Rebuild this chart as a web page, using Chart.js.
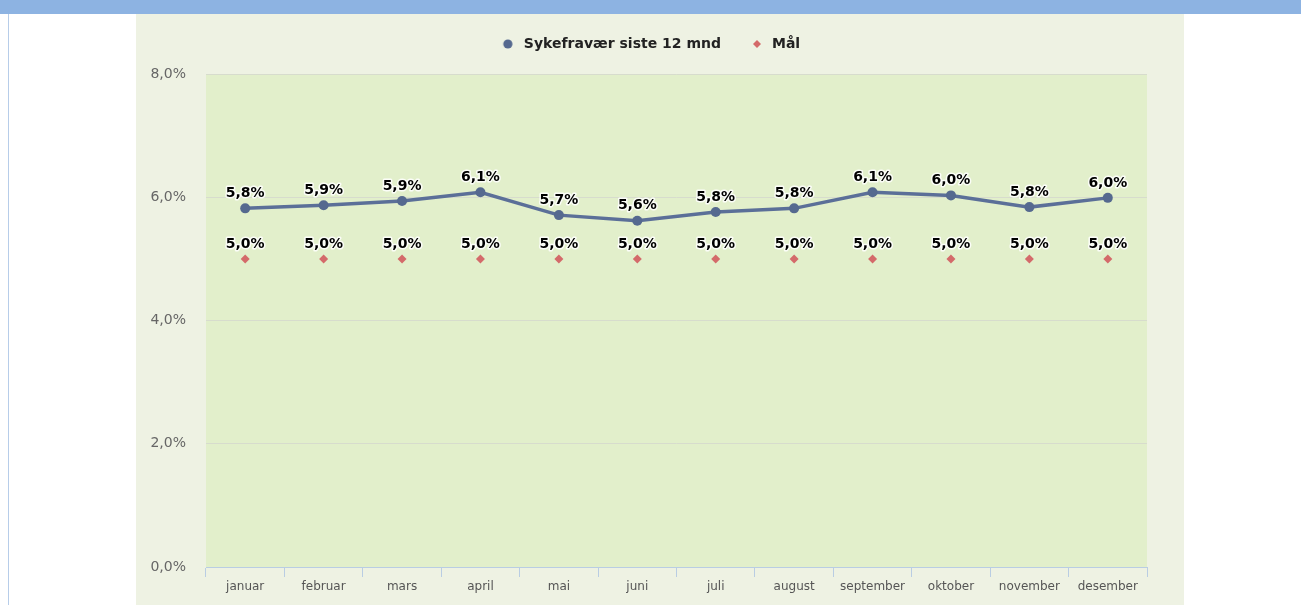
<!DOCTYPE html>
<html>
<head>
<meta charset="utf-8">
<script src="https://cdn.jsdelivr.net/npm/chart.js@4/dist/chart.umd.min.js"></script>
<style>
  html, body { margin: 0; padding: 0; background: #fff; }
  canvas { display: block; }
</style>
</head>
<body>
<canvas id="fravaerChart" width="1301" height="605"></canvas>
<script>
const months = ['januar', 'februar', 'mars', 'april', 'mai', 'juni', 'juli', 'august', 'september', 'oktober', 'november', 'desember'];
const sykefravaer = [5.82, 5.87, 5.94, 6.08, 5.71, 5.62, 5.76, 5.82, 6.08, 6.03, 5.84, 5.99];
const maal = [5.0, 5.0, 5.0, 5.0, 5.0, 5.0, 5.0, 5.0, 5.0, 5.0, 5.0, 5.0];
const yTicks = [0, 2, 4, 6, 8];

function pct(v) {
    return v.toFixed(1).replace('.', ',') + '%';
}

// Small legend markers, drawn off-centre so the gap to the text matches
function markor(form, farge, cx) {
    const cv = document.createElement('canvas');
    cv.width = 20;
    cv.height = 20;
    const c = cv.getContext('2d');
    c.fillStyle = farge;
    c.beginPath();
    if (form === 'circle') {
        c.arc(cx, 10, 4.6, 0, Math.PI * 2);
    } else {
        c.moveTo(cx, 6);
        c.lineTo(cx + 4, 10);
        c.lineTo(cx, 14);
        c.lineTo(cx - 4, 10);
        c.closePath();
    }
    c.fill();
    return cv;
}
const legendMarkorer = [markor('circle', '#55698f', 8), markor('diamond', '#d46a6a', 9)];

// Background: page frame, panel and plot area
const bakgrunn = {
    id: 'bakgrunn',
    beforeDraw(chart) {
        const c = chart.ctx;
        const a = chart.chartArea;
        c.save();
        c.fillStyle = '#ffffff';
        c.fillRect(0, 0, chart.width, chart.height);
        c.fillStyle = '#8db3e2';
        c.fillRect(0, 0, chart.width, 14);
        c.fillStyle = '#b7cde9';
        c.fillRect(8, 14, 1, chart.height - 14);
        c.fillStyle = '#eef2e3';
        c.fillRect(136, 14, 1048, chart.height - 14);
        c.fillStyle = '#e2efcb';
        c.fillRect(a.left, a.top, a.right - a.left, a.bottom - a.top);
        c.restore();
    }
};

// Value labels above every point
const verdier = {
    id: 'verdier',
    afterDatasetsDraw(chart) {
        const c = chart.ctx;
        c.save();
        c.font = 'bold 14px "DejaVu Sans", Verdana, sans-serif';
        c.textAlign = 'center';
        c.textBaseline = 'middle';
        c.lineJoin = 'round';
        chart.data.datasets.forEach((ds, i) => {
            const meta = chart.getDatasetMeta(i);
            meta.data.forEach((pt, j) => {
                const txt = pct(ds.data[j]);
                c.strokeStyle = 'rgba(255,255,255,0.85)';
                c.lineWidth = 3;
                c.strokeText(txt, pt.x, pt.y - 15);
                c.fillStyle = '#000000';
                c.fillText(txt, pt.x, pt.y - 15);
            });
        });
        c.restore();
    }
};

// Fixed legend height, and the legend nudged right like in the original
const legendeHoyde = {
    id: 'legendeHoyde',
    beforeInit(chart) {
        const fit = chart.legend.fit;
        chart.legend.fit = function () {
            fit.bind(chart.legend)();
            this.height = 67;
        };
    },
    afterLayout(chart) {
        chart.legend.left += 10;
        chart.legend.right += 10;
    }
};

const ctx = document.getElementById('fravaerChart').getContext('2d');
const chart = new Chart(ctx, {
    type: 'line',
    data: {
        labels: months,
        datasets: [{
            label: 'Sykefravær siste 12 mnd',
            data: sykefravaer,
            borderColor: '#5b6f98',
            backgroundColor: '#5b6f98',
            borderWidth: 3.5,
            pointStyle: 'circle',
            pointRadius: 5,
            pointBackgroundColor: '#55698f',
            pointBorderWidth: 0,
            tension: 0
        }, {
            label: 'Mål',
            data: maal,
            showLine: false,
            borderColor: '#d46a6a',
            backgroundColor: '#d46a6a',
            pointStyle: 'rectRot',
            pointRadius: 4.5,
            pointBorderWidth: 0
        }]
    },
    options: {
        responsive: false,
        animation: false,
        layout: {
            padding: { left: 136, right: 154, top: 7, bottom: 0 }
        },
        plugins: {
            legend: {
                position: 'top',
                labels: {
                    usePointStyle: true,
                    boxWidth: 14,
                    boxHeight: 14,
                    padding: 30,
                    color: '#222222',
                    font: { family: '"DejaVu Sans", Verdana, sans-serif', size: 14, weight: 'bold' },
                    generateLabels(chart) {
                        const items = Chart.defaults.plugins.legend.labels.generateLabels(chart);
                        items.forEach((it, i) => { it.pointStyle = legendMarkorer[i]; });
                        return items;
                    }
                }
            },
            tooltip: { enabled: false }
        },
        scales: {
            x: {
                offset: true,
                afterFit(scale) {
                    scale.height = 38;
                },
                grid: {
                    offset: true,
                    drawOnChartArea: false,
                    drawTicks: true,
                    tickLength: 10,
                    color: '#b9cde3'
                },
                border: { color: '#b9cde3' },
                ticks: {
                    color: '#555555',
                    padding: 3,
                    font: { family: '"DejaVu Sans", Verdana, sans-serif', size: 12 }
                }
            },
            y: {
                min: 0,
                max: 8,
                afterBuildTicks(scale) {
                    scale.ticks = yTicks.map(v => ({ value: v }));
                },
                afterFit(scale) {
                    scale.width = 70;
                },
                grid: {
                    drawTicks: false,
                    color: (c) => c.tick && c.tick.value === 0 ? 'rgba(0,0,0,0)' : '#d7dccd'
                },
                border: { display: false },
                ticks: {
                    padding: 20,
                    color: '#666666',
                    font: { family: '"DejaVu Sans", Verdana, sans-serif', size: 14 },
                    callback: (v) => pct(v)
                }
            }
        }
    },
    plugins: [bakgrunn, verdier, legendeHoyde]
});
</script>
</body>
</html>
